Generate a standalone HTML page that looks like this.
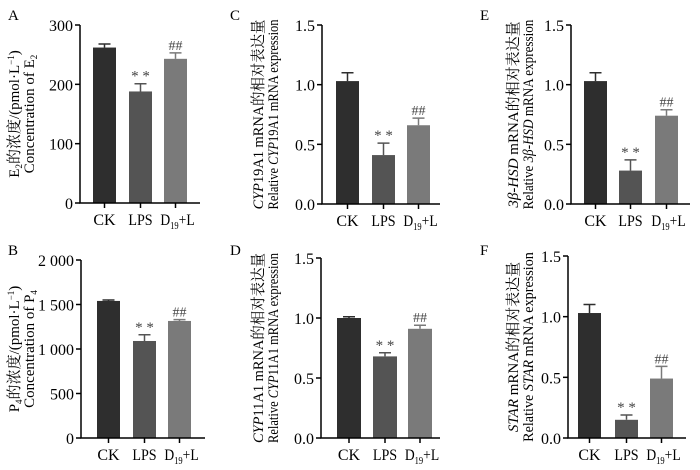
<!DOCTYPE html>
<html><head><meta charset="utf-8"><style>
body{margin:0;background:#fff;}
svg{display:block;font-family:"Liberation Serif","Noto Serif CJK SC",serif;}
</style></head><body>
<svg id="fig" width="700" height="470" viewBox="0 0 700 470"></svg>
<script>
const categories = ["CK","LPS","D19+L"];
const valuesA = [262,188,243]; const errA = [6,13,10];
const valuesB = [1540,1090,1315]; const errB = [10,70,15];
const valuesC = [1.03,0.41,0.66]; const errC = [0.07,0.10,0.06];
const valuesD = [1.00,0.68,0.91]; const errD = [0.01,0.03,0.03];
const valuesE = [1.03,0.28,0.74]; const errE = [0.07,0.09,0.05];
const valuesF = [1.03,0.15,0.49]; const errF = [0.07,0.04,0.10];
const ticksA = [0,100,200,300]; const ticksB = [0,500,1000,1500,2000];
const ticksR = [0,0.5,1.0,1.5];
const tickLabelsA = ["0","100","200","300"];
const tickLabelsB = ["0","500","1 000","1 500","2 000"];
const tickLabelsR = ["0.0","0.5","1.0","1.5"];
const marksTop = ["",  "* *", "##"];

const NS="http://www.w3.org/2000/svg";
const svg=document.getElementById('fig');
const colors=["#2e2e2e","#545454","#7a7a7a"];
function mk(tag,attrs,parent){const e=document.createElementNS(NS,tag);for(const k in attrs)e.setAttribute(k,attrs[k]);(parent||svg).appendChild(e);return e;}
function squeeze(el,f){const L=el.getComputedTextLength();if(L>0){el.setAttribute('textLength',(L*f).toFixed(1));el.setAttribute('lengthAdjust','spacingAndGlyphs');}}

const panels=[
 {id:"a",letter:"A",lx:8,ly:20,ax:80,top:25,bot:203,xend:200,bars:[93,129,164],bw:23,vals:valuesA,err:errA,ticks:ticksA,tl:tickLabelsA,max:300,
  l1:'E<tspan font-size="9" dy="3">2</tspan><tspan dy="-3">的浓度/(pmol·L</tspan><tspan font-size="9" dy="-5">−1</tspan><tspan dy="5">)</tspan>',
  l2:'Concentration of E<tspan font-size="9" dy="3">2</tspan>',t1:14,t2:29},
 {id:"b",letter:"B",lx:8,ly:255,ax:81,top:260,bot:438,xend:205,bars:[97,133,168],bw:23,vals:valuesB,err:errB,ticks:ticksB,tl:tickLabelsB,max:2000,
  l1:'P<tspan font-size="9" dy="3">4</tspan><tspan dy="-3">的浓度/(pmol·L</tspan><tspan font-size="9" dy="-5">−1</tspan><tspan dy="5">)</tspan>',
  l2:'Concentration of P<tspan font-size="9" dy="3">4</tspan>',t1:14,t2:29},
 {id:"c",letter:"C",lx:230,ly:20,ax:322,top:25,bot:204,xend:440,bars:[336,372,407],bw:23,vals:valuesC,err:errC,ticks:ticksR,tl:tickLabelsR,max:1.5,
  l1:'<tspan font-style="italic">CYP</tspan>19A1 mRNA的相对表达量',l2:'Relative <tspan font-style="italic">CYP</tspan>19A1 mRNA expression',t1:258,t2:273},
 {id:"d",letter:"D",lx:230,ly:255,ax:321,top:258,bot:438,xend:440,bars:[337,373,408],bw:24,vals:valuesD,err:errD,ticks:ticksR,tl:tickLabelsR,max:1.5,
  l1:'<tspan font-style="italic">CYP</tspan>11A1 mRNA的相对表达量',l2:'Relative <tspan font-style="italic">CYP</tspan>11A1 mRNA expression',t1:258,t2:273},
 {id:"e",letter:"E",lx:480,ly:20,ax:571,top:25,bot:204,xend:690,bars:[584,619,655],bw:23,vals:valuesE,err:errE,ticks:ticksR,tl:tickLabelsR,max:1.5,
  l1:'<tspan font-style="italic">3β-HSD</tspan> mRNA的相对表达量',l2:'Relative <tspan font-style="italic">3β-HSD</tspan> mRNA expression',t1:513,t2:528},
 {id:"f",letter:"F",lx:480,ly:255,ax:568,top:256,bot:438,xend:686,bars:[578,615,650],bw:23,vals:valuesF,err:errF,ticks:ticksR,tl:tickLabelsR,max:1.5,
  l1:'<tspan font-style="italic">STAR</tspan> mRNA的相对表达量',l2:'Relative <tspan font-style="italic">STAR</tspan> mRNA expression',t1:513,t2:528}
];

panels.forEach(p=>{
  const g=mk('g',{});
  
  
  const y=v=>p.bot-(v/p.max)*(p.bot-p.top);
  const lt=mk('text',{x:p.lx,y:p.ly,'font-size':15},g); lt.textContent=p.letter;
  
  
  p.vals.forEach((v,i)=>{
    const x=p.bars[i], cx=x+p.bw/2, ye=y(v+p.err[i]);
    const r=mk('rect',{x:x,y:y(v),width:p.bw,height:p.bot-y(v),fill:colors[i]},g);
    
    
    const eb=mk('path',{d:`M${cx},${y(v)}V${ye}M${cx-6},${ye}H${cx+6}`,stroke:colors[i],'stroke-width':1.5,fill:'none'},g);
    
    
    if(marksTop[i]){const m=mk('text',{x:cx,y:ye-3,'text-anchor':'middle','font-size':i==1?15:14,fill:'#444'},g);m.textContent=marksTop[i];
      
      }
    mk('line',{x1:cx,x2:cx,y1:p.bot,y2:p.bot+5,stroke:'#000','stroke-width':1.5},g);
    const xl=mk('text',{x:cx+(i==2?2:0),y:p.bot+22,'text-anchor':'middle','font-size':16},g);
    
    
    if(categories[i]==="D19+L") xl.innerHTML='D<tspan font-size="10" dy="4">19</tspan><tspan dy="-4">+L</tspan>'; else xl.textContent=categories[i];
    if(i==2){xl.setAttribute('text-anchor','middle');xl.setAttribute('transform',`translate(${cx+2},0) scale(0.85,1) translate(${-(cx+2)},0)`);}
    else if(i==1){xl.setAttribute('transform',`translate(${cx},0) scale(0.88,1) translate(${-cx},0)`);}
  });
  const ax=mk('path',{d:`M${p.ax},${p.top}V${p.bot}H${p.xend}`,stroke:'#000','stroke-width':1.5,fill:'none'},g);
  
  
  p.ticks.forEach((t,k)=>{
    mk('line',{x1:p.ax-5,x2:p.ax,y1:y(t),y2:y(t),stroke:'#000','stroke-width':1.5},g);
    const tl=mk('text',{x:p.ax-7,y:y(t)+6,'text-anchor':'end','font-size':16},g);tl.textContent=p.tl[k];
    
    
  });
  const cy=(p.top+p.bot)/2;
  const a1=mk('text',{x:0,y:0,'text-anchor':'middle','font-size':15,transform:`translate(${p.t1+5},${cy}) rotate(-90)`},g);a1.innerHTML=p.l1;
  
  
  const a2=mk('text',{x:0,y:0,'text-anchor':'middle','font-size':15,transform:`translate(${p.t2+5},${cy}) rotate(-90)`},g);a2.innerHTML=p.l2;
  
  
  const maxLen=(p.id=='a'||p.id=='b')?165:190;
  [a1,a2].forEach(a=>{const L=a.getComputedTextLength();if(L>maxLen){a.setAttribute('transform',`translate(${a===a1?p.t1+5:p.t2+5},${cy}) rotate(-90) scale(${(maxLen/L).toFixed(3)},1)`);}});
});
</script>
</body></html>
